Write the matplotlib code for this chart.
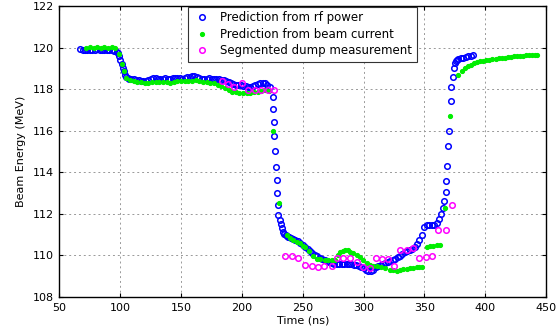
import matplotlib
matplotlib.use("Agg")
import matplotlib.pyplot as plt

# prediction from rf power (blue)
rf_t = [67, 69, 71, 73, 75, 77, 79, 81, 83, 85, 87, 89, 91, 93, 95, 97,
        98, 99, 100, 101, 102, 103, 104, 105, 106,
        107, 109, 111, 113, 115, 117, 119, 121, 123, 125, 127, 129, 131, 133, 135,
        137, 139, 141, 143, 145, 147, 149, 151, 153, 155, 157, 159, 161, 163, 165,
        167, 169, 171, 173, 175, 177, 179, 181, 183, 185, 187, 189, 191, 193, 195,
        197, 199, 201, 203, 205, 207, 209, 211, 213, 215, 217, 219, 221, 223,
        225.2, 225.6, 226.0, 226.5, 227.0, 227.8, 228.5, 229.0, 229.5, 230.0,
        231, 232, 233, 234, 235, 236, 237, 238, 239, 240, 242, 244, 246, 248, 250,
        252, 254, 256, 258, 260, 262, 264, 266, 268, 270, 272, 274, 276, 278, 280,
        282, 284, 286, 288, 290, 292, 294, 296, 298, 300, 302, 304, 306, 308, 310,
        312, 314, 316, 318, 320, 322, 324, 326, 328, 330, 332, 334, 336, 338, 340,
        342, 344, 346, 348, 350, 352, 354, 356, 358, 360, 362, 364,
        365.5, 366.5, 367.5, 368.2, 369.0, 369.8, 370.5, 371.5, 372.3, 373.2,
        374, 375, 376, 377, 378, 380, 382, 384, 386, 388, 390]
rf_e = [119.92, 119.88, 119.9, 119.86, 119.9, 119.88, 119.9, 119.92, 119.88, 119.86,
        119.9, 119.88, 119.86, 119.9, 119.84, 119.8,
        119.75, 119.6, 119.4, 119.2, 119.0, 118.85, 118.7, 118.6, 118.55,
        118.5, 118.5, 118.48, 118.45, 118.42, 118.4, 118.38, 118.4, 118.42, 118.48,
        118.55, 118.55, 118.5, 118.48, 118.5, 118.52, 118.5, 118.5, 118.52, 118.55,
        118.55, 118.52, 118.5, 118.55, 118.58, 118.6, 118.62, 118.62, 118.6, 118.55,
        118.5, 118.48, 118.5, 118.52, 118.5, 118.48, 118.5, 118.48, 118.45, 118.42,
        118.38, 118.35, 118.3, 118.25, 118.22, 118.2, 118.18, 118.15, 118.15, 118.12,
        118.12, 118.15, 118.2, 118.25, 118.28, 118.3, 118.28, 118.2, 118.1,
        117.6, 117.05, 116.43, 115.75, 115.0, 114.27, 113.63, 113.0, 112.43, 111.95,
        111.7, 111.5, 111.3, 111.15, 111.05, 111.0, 110.95, 110.9, 110.9, 110.85,
        110.8, 110.75, 110.7, 110.6, 110.5, 110.4, 110.3, 110.2, 110.1, 110.0,
        109.95, 109.88, 109.82, 109.78, 109.72, 109.68, 109.64, 109.6, 109.6, 109.6,
        109.6, 109.6, 109.6, 109.6, 109.6, 109.55, 109.55, 109.5, 109.45, 109.4,
        109.32, 109.25, 109.25, 109.32, 109.42, 109.5, 109.55, 109.6, 109.65, 109.7,
        109.75, 109.8, 109.85, 109.9, 109.95, 110.05, 110.15, 110.2, 110.25, 110.3,
        110.4, 110.55, 110.75, 111.0, 111.35, 111.45, 111.45, 111.45, 111.45, 111.55,
        111.75, 112.0,
        112.3, 112.6, 113.05, 113.6, 114.3, 115.24, 116.0, 117.44, 118.1, 118.6,
        119.0, 119.25, 119.35, 119.4, 119.45, 119.5, 119.52, 119.55, 119.58, 119.6, 119.62]

# prediction from beam current (green)
bc_t = [72, 75, 78, 81, 84, 87, 90, 93, 96, 99, 101, 103, 105, 108, 111, 114, 117,
        120, 123, 126, 129, 132, 135, 138, 141, 144, 147, 150, 153, 156, 159, 162,
        165, 168, 171, 174, 177, 180, 183, 186, 189, 192, 195, 198, 201, 204, 207,
        210, 213, 216, 219, 222, 225.5, 230.7, 236.8, 239.5, 242.3, 245, 247.8, 250,
        252, 255, 258.7, 261.5, 264.2, 268, 271, 274, 276.6, 279, 280.7, 283, 284.8,
        287, 288.9, 291.5, 294.4, 297, 299.8, 302.5, 305.3, 308, 310.9, 314, 317.7,
        321.8, 324.5, 327.3, 330, 332.7, 335.5, 338.2, 341, 343.7, 346, 347.9, 352,
        355, 357.4, 360, 362.9, 367, 371.1, 378, 381, 383.5, 386, 388.5, 391, 393.5,
        396, 398.5, 401, 403.5, 406, 408.5, 411, 413.5, 416, 418.5, 421, 423.5, 426,
        428.5, 431, 433.5, 436, 438.5, 441, 443]
bc_e = [120.0, 120.02, 120.0, 120.03, 120.0, 120.02, 120.0, 120.02, 119.98, 119.7,
        119.2, 118.85, 118.55, 118.42, 118.38, 118.35, 118.32, 118.3, 118.3, 118.33,
        118.35, 118.33, 118.33, 118.35, 118.3, 118.35, 118.38, 118.37, 118.38, 118.4,
        118.4, 118.42, 118.4, 118.35, 118.32, 118.3, 118.28, 118.22, 118.15, 118.05,
        117.95, 117.88, 117.85, 117.82, 117.8, 117.82, 117.82, 117.85, 117.88, 117.9,
        117.95, 117.9, 116.0, 112.5, 111.0, 110.85, 110.74, 110.65, 110.58, 110.45,
        110.39, 110.2, 109.95, 109.85, 109.81, 109.78, 109.78, 109.78, 109.8, 110.0,
        110.18, 110.22, 110.28, 110.25, 110.18, 110.1, 110.02, 109.9, 109.78, 109.65,
        109.54, 109.5, 109.49, 109.45, 109.38, 109.3, 109.28, 109.27, 109.3, 109.33,
        109.36, 109.38, 109.4, 109.43, 109.45, 109.46, 110.42, 110.44, 110.45, 110.48,
        110.5, 112.27, 116.71, 118.68, 118.88, 119.0, 119.1, 119.18, 119.24, 119.29,
        119.33, 119.36, 119.39, 119.42, 119.44, 119.46, 119.48, 119.5, 119.52, 119.54,
        119.55, 119.57, 119.58, 119.59, 119.61, 119.62, 119.63, 119.64, 119.65, 119.66]

# segmented dump measurement (magenta)
sd_t = [183.4, 188.5, 193.5, 200.4, 205.3, 210.8, 215.7, 221.2, 226.4,
        235.4, 240.9, 246.4, 251.9, 257.4, 262.8, 267.5, 273.8, 278, 283.4, 288.9,
        294.9, 299.8, 305.3, 310.3, 315.5, 320.4, 325.1, 330, 335.5, 341, 345.6,
        351.2, 356.6, 361.5, 367.6, 372.5]
sd_e = [118.4, 118.25, 118.12, 118.3, 117.97, 117.97, 117.97, 117.97, 117.97,
        109.99, 109.99, 109.89, 109.54, 109.49, 109.43, 109.49, 109.49, 109.89, 109.89,
        109.89, 109.7, 109.46, 109.38, 109.86, 109.81, 109.81, 109.49, 110.26, 110.26,
        110.34, 109.89, 109.94, 109.99, 111.23, 111.23, 112.43]

plt.rcParams['font.family'] = ['DejaVu Sans']

fig = plt.figure(figsize=(5.59, 3.26), dpi=100)
ax = fig.add_axes([0.1064, 0.089, 0.8703, 0.8927])

ax.plot(rf_t, rf_e, 'o', color='#0000ff', mfc='none', ms=4.0, mew=1.1,
        label='Prediction from rf power', zorder=3)
ax.plot(bc_t, bc_e, '.', color='#00ee00', ms=5.5, label='Prediction from beam current', zorder=4)
ax.plot(sd_t, sd_e, 'o', color='#ff00ff', mfc='none', ms=4.0, mew=1.1,
        label='Segmented dump measurement', zorder=5)

ax.set_xlim(50, 450)
ax.set_ylim(108, 122)
ax.set_xticks(range(50, 451, 50))
ax.set_yticks(range(108, 123, 2))
ax.grid(True, linestyle=(0, (2, 3)), color='#999999', linewidth=0.7)
ax.tick_params(direction='in', top=True, right=True, labelsize=8, length=3, pad=4)
for s in ax.spines.values():
    s.set_linewidth(1.0)

ax.set_xlabel('Time (ns)', fontsize=8, labelpad=2)
ax.set_ylabel('Beam Energy (MeV)', fontsize=8, labelpad=5)

leg = ax.legend(loc='upper center', fontsize=8.5, fancybox=False, framealpha=1,
                edgecolor='#333333', borderaxespad=0.05, handletextpad=0.8,
                labelspacing=0.3, borderpad=0.4, handlelength=1.5)
leg.get_frame().set_linewidth(0.8)

fig.savefig('out.png', dpi=100)
